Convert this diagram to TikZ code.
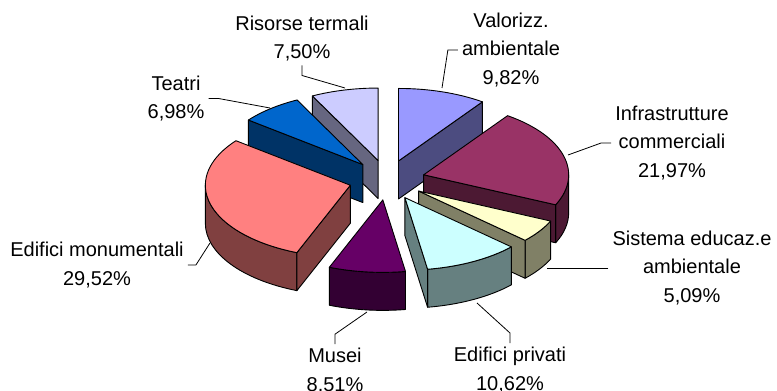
\documentclass[tikz,border=0pt]{standalone}
\usepackage{fontspec}
\setmainfont{Liberation Sans}
\usepackage{tikz}
\usetikzlibrary{calc}

\definecolor{valTop}{HTML}{9999FF}
\definecolor{infTop}{HTML}{993366}
\definecolor{sisTop}{HTML}{FFFFCC}
\definecolor{priTop}{HTML}{CCFFFF}
\definecolor{musTop}{HTML}{660066}
\definecolor{monTop}{HTML}{FF8080}
\definecolor{teaTop}{HTML}{0066CC}
\definecolor{risTop}{HTML}{CCCCFF}

% top face: apex, from, to, colour
\newcommand{\slicetop}[4]{%
  \filldraw[pieedge, fill=#4] (#1) -- ++(#2:145 and 72.5) arc[start angle=#2, end angle=#3, x radius=145, y radius=72.5] -- cycle;}
% flat side face: apex, angle, colour
\newcommand{\sliceside}[3]{%
  \filldraw[pieedge, fill=#3] (#1) -- ++(#2:145 and 72.5) -- ++(0,-38) -- ($(#1)+(0,-38)$) -- cycle;}
% curved outer face: apex, from, to, colour
\newcommand{\sliceouter}[4]{%
  \filldraw[pieedge, fill=#4] ($(#1)+(#2:145 and 72.5)$) arc[start angle=#2, end angle=#3, x radius=145, y radius=72.5] -- ++(0,-38) arc[start angle=#3, end angle=#2, x radius=145, y radius=72.5] -- cycle;}

\begin{document}
\begin{tikzpicture}[x=1pt,y=1pt,
  pieedge/.style={draw=black, line width=0.9pt, line join=round},
  leader/.style={draw=black, line width=0.8pt, shorten <=2pt},
  lbl/.style={align=center, inner sep=2pt, font=\fontsize{20}{28.5}\selectfont}]
\useasboundingbox (0,0) rectangle (777,391);

% Centre and apexes
\coordinate (C) at (387,211);
\path (C) ++(72.324:38 and 20) coordinate (aVal);
\path (C) ++(15.102:38 and 20) coordinate (aInf);
\path (C) ++(-33.606:38 and 20) coordinate (aSis);
\path (C) ++(-61.884:38 and 20) coordinate (aPri);
\path (C) ++(-96.318:38 and 20) coordinate (aMus);
\path (C) ++(-164.772:38 and 20) coordinate (aMon);
\path (C) ++(-230.472:38 and 20) coordinate (aTea);
\path (C) ++(-256.518:38 and 20) coordinate (aRis);

% Slices, back to front
\sliceside{aRis}{-243.036}{risTop!50!black}
\slicetop{aRis}{-243.036}{-270}{risTop}
\sliceside{aVal}{54.648}{valTop!50!black}
\slicetop{aVal}{90}{54.648}{valTop}
\sliceside{aTea}{-217.908}{teaTop!50!black}
\slicetop{aTea}{-217.908}{-243.036}{teaTop}
\sliceouter{aInf}{0}{-24.444}{infTop!50!black}
\sliceside{aInf}{-24.444}{infTop!50!black}
\slicetop{aInf}{54.648}{-24.444}{infTop}
\sliceouter{aMon}{-111.636}{-180}{monTop!50!black}
\sliceside{aMon}{-111.636}{monTop!50!black}
\slicetop{aMon}{-111.636}{-217.908}{monTop}
\sliceouter{aSis}{-24.444}{-42.768}{sisTop!50!black}
\sliceside{aSis}{-42.768}{sisTop!50!black}
\slicetop{aSis}{-24.444}{-42.768}{sisTop}
\sliceouter{aPri}{-42.768}{-81}{priTop!50!black}
\sliceside{aPri}{-81}{priTop!50!black}
\slicetop{aPri}{-42.768}{-81}{priTop}
\sliceouter{aMus}{-81}{-111.636}{musTop!50!black}
\slicetop{aMus}{-81}{-111.636}{musTop}

% Labels
\node[lbl] (lblRis) at (302,352.5) {Risorse termali\\7,50\%};
\node[lbl] (lblTea) at (176,292.5) {Teatri\\6,98\%};
\node[lbl] (lblVal) at (511,341) {Valorizz.\\ambientale\\9,82\%};
\node[lbl] (lblInf) at (672,248) {Infrastrutture\\commerciali\\21,97\%};
\node[lbl] (lblSis) at (692,123) {Sistema educaz.e\\ambientale\\5,09\%};
\node[lbl] (lblPri) at (510,21) {Edifici privati\\10,62\%};
\node[lbl] (lblMus) at (335,21) {Musei\\8.51\%};
\node[lbl] (lblMon) at (97,126) {Edifici monumentali\\29,52\%};

% Leaders
\coordinate (rimRis) at (345,303);
\coordinate (rimTea) at (270,283);
\coordinate (rimVal) at (442,303);
\coordinate (rimInf) at (568,236);
\coordinate (rimSis) at (547,123);
\coordinate (rimPri) at (477,88);
\coordinate (rimMus) at (367,79);
\coordinate (rimMon) at (210,148);
\draw[leader] (lblRis.south) -- ++(0,-12) -- (rimRis);
\draw[leader] (lblTea.east) -- ++(12,0) -- (rimTea);
\draw[leader] (lblVal.west) -- ++(-12,0) -- (rimVal);
\draw[leader] (lblInf.west) -- ++(-12,0) -- (rimInf);
\draw[leader] (lblSis.west) -- (rimSis);
\draw[leader] (lblPri.north) -- ++(0,12) -- (rimPri);
\draw[leader] (lblMus.north) -- ++(0,12) -- (rimMus);
\draw[leader] (lblMon.east) -- ++(10,0) -- (rimMon);

\end{tikzpicture}
\end{document}
